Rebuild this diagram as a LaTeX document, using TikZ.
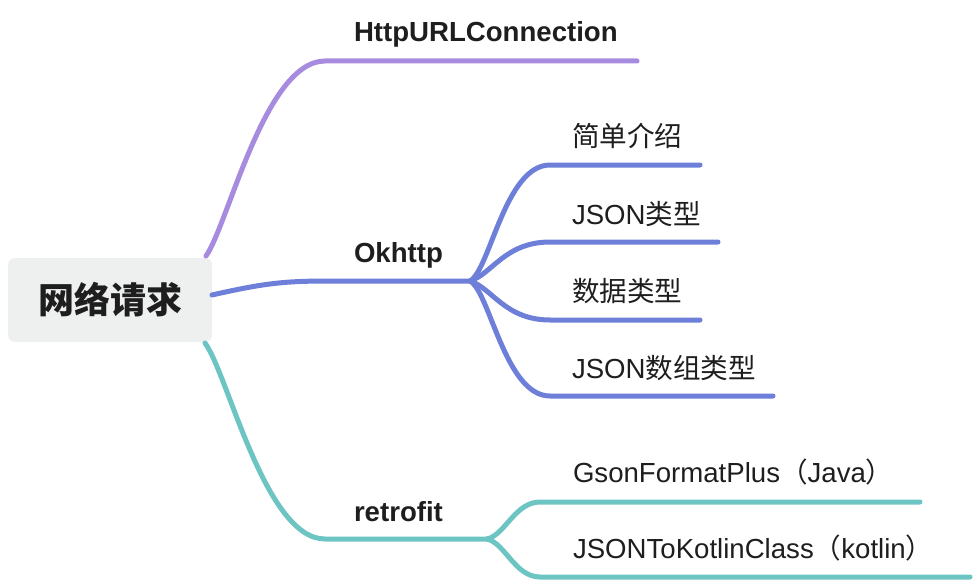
\documentclass[tikz,border=0pt]{standalone}
\usepackage{fontspec}
\setmainfont{Liberation Sans}
\newfontfamily\cjk{Noto Sans CJK SC}
\definecolor{purp}{HTML}{A68BDF}
\definecolor{blu}{HTML}{6D7FD8}
\definecolor{teal2}{HTML}{6CC4C3}
\definecolor{rootbg}{HTML}{EEEFEF}
\definecolor{txt}{HTML}{1E1E1E}
\begin{document}
\begin{tikzpicture}[x=1pt,y=-1pt, line cap=round,
  every node/.style={inner sep=0pt, outer sep=0pt, text=txt},
  rootbox/.style={fill=rootbg, rounded corners=7pt, minimum width=204pt, minimum height=84pt,
    font=\cjk\bfseries\fontsize{36}{40}\selectfont},
  lone/.style={font=\fontsize{27.6}{30}\selectfont\bfseries, anchor=base west},
  ltwo/.style={font=\fontsize{27.6}{30}\selectfont, anchor=base west},
  br/.style={line width=5pt}]
\useasboundingbox (0,0) rectangle (976,583);

\node[rootbox] (root) at (110,300) {网络请求};

\node[lone] (http) at (354,42) {HttpURLConnection};
\node[lone] (ok) at (354,262) {Okhttp};
\node[lone] (retro) at (354,521) {retrofit};

\node[ltwo] (a) at (572,146) {\cjk 简单介绍};
\node[ltwo] (b) at (572,224) {JSON{\cjk 类型}};
\node[ltwo] (c) at (572,301) {\cjk 数据类型};
\node[ltwo] (d) at (572,378) {JSON{\cjk 数组类型}};
\node[ltwo] (e) at (573,482) {GsonFormatPlus{\cjk （}Java{\cjk ）}};
\node[ltwo] (f) at (573,558) {JSONToKotlinClass{\cjk （}kotlin{\cjk ）}};

% branch points and ends
\coordinate (okb) at (470,281);
\coordinate (reb) at (487,539);
\coordinate (httpend) at (637,61);
\coordinate (aend) at (700,165);
\coordinate (bend) at (718,242);
\coordinate (cend) at (700,320);
\coordinate (dend) at (773,396);
\coordinate (eend) at (920,502);
\coordinate (fend) at (970,577);

\draw[br, purp] ([xshift=-6pt,yshift=2pt]root.north east) .. controls (228,225) and (265,61) .. (325,61) -- (httpend);
\draw[br, blu] ([yshift=5pt]root.east) .. controls (265,283) and (285,281) .. (330,281) -- (okb);
\draw[br, teal2] ([xshift=-7pt,yshift=-1pt]root.south east) .. controls (228,374) and (265,539) .. (325,539) -- (reb);

\draw[br, blu] (okb) .. controls (490,270) and (505,165) .. (550,165) -- (aend);
\draw[br, blu] (okb) .. controls (492,274) and (505,242) .. (550,242) -- (bend);
\draw[br, blu] (okb) .. controls (492,288) and (505,320) .. (550,320) -- (cend);
\draw[br, blu] (okb) .. controls (490,292) and (505,396) .. (550,396) -- (dend);

\draw[br, teal2] (reb) .. controls (505,535) and (515,502) .. (540,502) -- (eend);
\draw[br, teal2] (reb) .. controls (505,543) and (515,577) .. (540,577) -- (fend);
\end{tikzpicture}
\end{document}
